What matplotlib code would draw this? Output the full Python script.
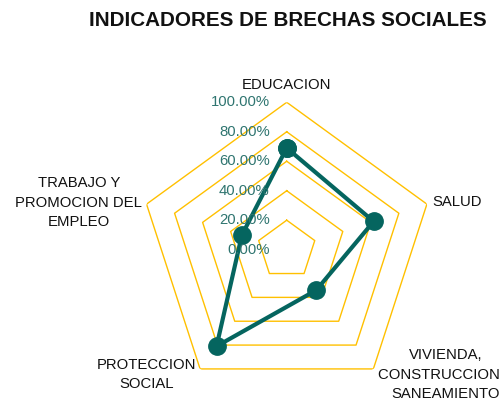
import numpy as np
import matplotlib
matplotlib.use("Agg")
import matplotlib.pyplot as plt
from matplotlib.transforms import offset_copy

categories = ["EDUCACION", "SALUD", "VIVIENDA,\nCONSTRUCCION Y\nSANEAMIENTO",
              "PROTECCION\nSOCIAL", "TRABAJO Y\nPROMOCION DEL\nEMPLEO"]
values = [69, 62, 34, 81, 32]
ticks = [0, 20, 40, 60, 80, 100]
tick_labels = ["0.00%", "20.00%", "40.00%", "60.00%", "80.00%", "100.00%"]
title = "INDICADORES DE BRECHAS SOCIALES"

FONT = ["Liberation Sans Narrow", "Liberation Sans", "DejaVu Sans"]
plt.rcParams["font.family"] = FONT

GOLD = "#FFC000"
TEAL = "#05655F"
TICKC = "#2F7570"

fig = plt.figure(figsize=(5.01, 4.05), dpi=100)
ax = fig.add_axes([0.2781, 0.0195, 0.5884, 0.728], projection="polar")
ax.set_theta_offset(np.pi / 2)
ax.set_theta_direction(-1)
ax.set_ylim(0, 100)
ax.grid(False)
ax.spines["polar"].set_visible(False)
ax.set_xticks([])
ax.set_yticks([])
ax.patch.set_alpha(0)

n = len(categories)
angles = np.arange(n) * 2 * np.pi / n
closed = np.append(angles, angles[0])

for t in ticks[1:]:
    ax.plot(closed, [t] * (n + 1), color=GOLD, lw=1.0, zorder=1)

vals = np.append(values, values[0])
ax.plot(closed, vals, color=TEAL, lw=3.0, marker="o", markersize=12.5, zorder=3,
        clip_on=False)

# radial tick labels
tr = offset_copy(ax.transData, fig=fig, x=-17, y=0, units="dots")
for t, lab in zip(ticks, tick_labels):
    ax.text(0, t, lab, transform=tr, ha="right", va="center", color=TICKC,
            fontsize=10.7, zorder=4)

# category labels
specs = [
    (107, "center", "bottom"),
    (104, "left", "center"),
    (105, "left", "center"),
    (104.5, "right", "center"),
    (103, "right", "center"),
]
for ang, lab, (r, ha, va) in zip(angles, categories, specs):
    ax.text(ang, r, lab, ha=ha, va=va, multialignment="center", fontsize=10.7,
            color="#111111", clip_on=False, linespacing=1.5)

fig.text(0.575, 0.95, title, ha="center", va="center", fontsize=14.9,
         fontweight="bold", color="#111111")

fig.savefig("out.png", dpi=100)
